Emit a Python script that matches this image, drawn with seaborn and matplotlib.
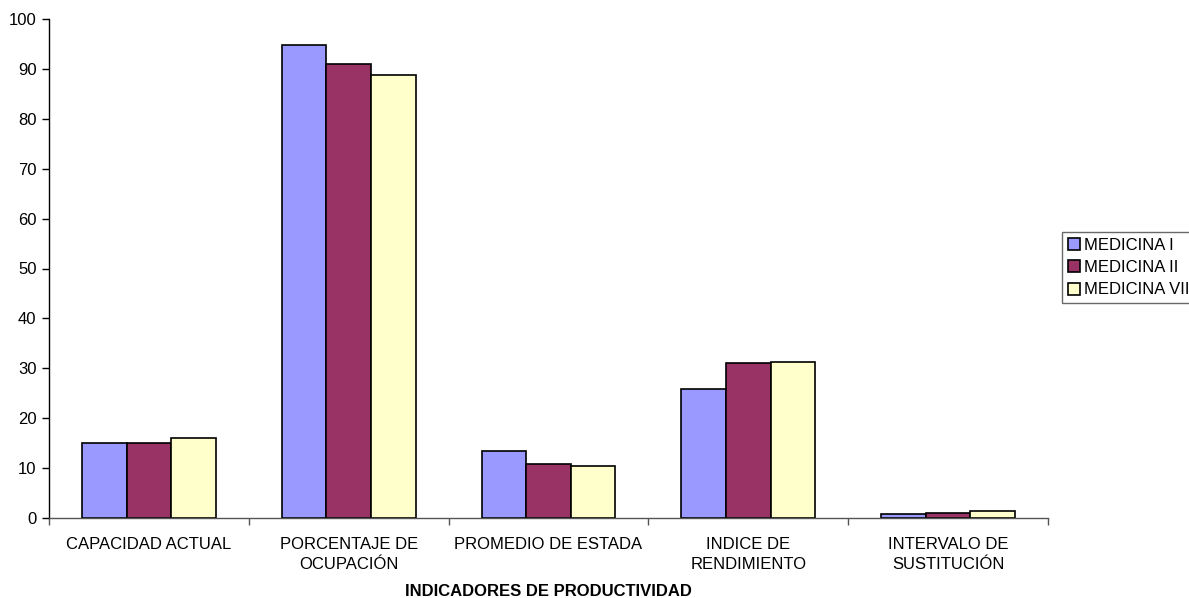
import matplotlib
matplotlib.use("Agg")
import matplotlib.pyplot as plt
import seaborn as sns
import pandas as pd

categories = ["CAPACIDAD ACTUAL", "PORCENTAJE DE\nOCUPACIÓN", "PROMEDIO DE ESTADA",
              "INDICE DE\nRENDIMIENTO", "INTERVALO DE\nSUSTITUCIÓN"]
series = ["MEDICINA I", "MEDICINA II", "MEDICINA VII"]
medicina_i = [15.0, 94.8, 13.4, 25.9, 0.8]
medicina_ii = [15.0, 91.0, 10.8, 31.1, 1.1]
medicina_vii = [16.0, 88.8, 10.4, 31.3, 1.4]
colors = ["#9999FF", "#993366", "#FFFFCC"]

rows = []
for name, vals in zip(series, [medicina_i, medicina_ii, medicina_vii]):
    for cat, v in zip(categories, vals):
        rows.append({"indicador": cat, "unidad": name, "valor": v})
df = pd.DataFrame(rows)

sns.set_theme(style="white")
plt.rcParams["font.family"] = ["Liberation Sans", "DejaVu Sans"]
plt.rcParams["text.color"] = "black"
plt.rcParams["axes.labelcolor"] = "black"
plt.rcParams["xtick.color"] = "black"
plt.rcParams["ytick.color"] = "black"

fig = plt.figure(figsize=(11.89, 5.98), dpi=100)
ax = fig.add_axes([49 / 1189, 80 / 598, (1048 - 49) / 1189, (518 - 19) / 598])

sns.barplot(data=df, x="indicador", y="valor", hue="unidad", order=categories,
            hue_order=series, palette=colors, width=0.67, edgecolor="black",
            linewidth=1.2, saturation=1, ax=ax, legend=True)

ax.set_xlim(-0.5, len(categories) - 0.5)
ax.set_ylim(0, 100)
ax.set_yticks(range(0, 101, 10))
ax.tick_params(axis="y", which="major", direction="out", length=5, width=1,
               color="black", labelsize=12, pad=4, left=True)
ax.set_xticks(range(len(categories)))
ax.set_xticklabels(categories, fontsize=12, linespacing=1.4)
ax.tick_params(axis="x", which="major", length=0, pad=14)
ax.set_xticks([i - 0.5 for i in range(len(categories) + 1)], minor=True)
ax.tick_params(axis="x", which="minor", direction="out", length=5, width=1,
               color="#555555", bottom=True)

for side in ["top", "right"]:
    ax.spines[side].set_visible(False)
ax.spines["left"].set_color("black")
ax.spines["bottom"].set_color("#555555")
ax.spines["left"].set_linewidth(1)
ax.spines["bottom"].set_linewidth(1)

ax.set_ylabel("")
ax.set_xlabel("INDICADORES DE PRODUCTIVIDAD", fontsize=12, fontweight="bold")
ax.xaxis.label.set_verticalalignment("center")
ax.xaxis.set_label_coords(0.5, -(591 - 518) / 499)

leg = ax.legend(loc="center left", bbox_to_anchor=(1062 / 1189, 1 - 267.5 / 598),
                bbox_transform=fig.transFigure, frameon=True, fancybox=False,
                fontsize=12, handlelength=0.75, handleheight=0.75, handletextpad=0.25,
                borderpad=0.35, labelspacing=0.45, borderaxespad=0)
leg.get_frame().set_edgecolor("#444444")
leg.get_frame().set_linewidth(1)
for h in leg.legend_handles:
    h.set_edgecolor("black")
    h.set_linewidth(1.2)

fig.savefig("out.png", dpi=100)
